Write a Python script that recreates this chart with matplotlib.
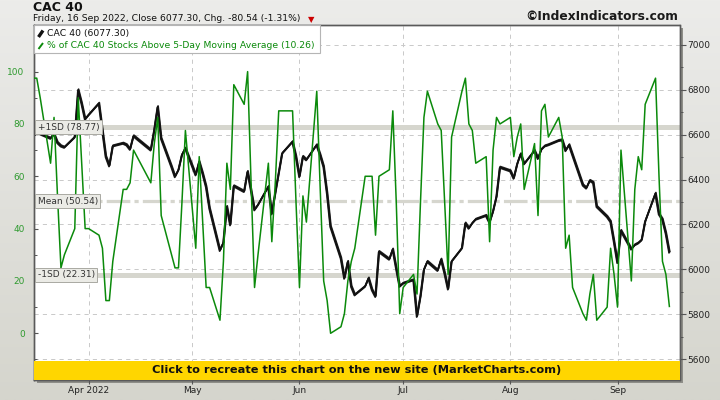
import numpy as np
import pandas as pd
import matplotlib
matplotlib.use("Agg")
import matplotlib.pyplot as plt
import matplotlib.dates as mdates
import matplotlib.patheffects as pe
from matplotlib.patches import Rectangle
from matplotlib.lines import Line2D
from matplotlib.transforms import blended_transform_factory
from matplotlib.colors import LinearSegmentedColormap
from matplotlib.ticker import FixedLocator, FixedFormatter, MultipleLocator

# ---------------- data ----------------
holidays = ["2022-04-15", "2022-04-18"]
dates = pd.bdate_range("2022-03-16", "2022-09-16")
dates = dates[~dates.isin(pd.to_datetime(holidays))]

cac = [
    # Mar 16-31
    6589, 6614, 6604, 6584, 6604, 6565, 6550, 6544, 6589, 6800, 6740, 6669,
    # Apr
    6688, 6740, 6621, 6503, 6461, 6550, 6562, 6555, 6535, 6595, 6532, 6621,
    6725, 6584, 6458, 6413, 6443, 6510, 6540,
    # May
    6421, 6480, 6428, 6369, 6272, 6084, 6119, 6280, 6198, 6372, 6347, 6436,
    6354, 6265, 6287, 6369, 6247, 6339, 6428, 6517, 6569, 6503,
    # Jun
    6413, 6503, 6488, 6555, 6510, 6458, 6339, 6191, 6050, 5960, 6035, 5924,
    5886, 5924, 5961, 5909, 5879, 6079, 6045, 6090, 6005, 5924,
    # Jul
    5938, 5953, 5790, 5879, 5998, 6035, 5995, 6045, 5983, 5912, 6035, 6094,
    6206, 6183, 6206, 6223, 6240, 6209, 6258, 6324, 6455,
    # Aug
    6439, 6406, 6470, 6515, 6470, 6529, 6494, 6535, 6550, 6555, 6574, 6577,
    6529, 6555, 6510, 6376, 6362, 6396, 6387, 6280, 6235, 6213, 6124,
    # Sep 1-16
    6030, 6173, 6090, 6109, 6117, 6131, 6213, 6339, 6247, 6223, 6161, 6077.30,
]

pct = [
    # Mar 16-31
    97.5, 97.5, 90, 65, 82.5, 52.5, 25, 30, 40, 90, 65, 40,
    # Apr
    40, 37.5, 32.5, 12.5, 12.5, 27.5, 55, 55, 57.5, 70, 57.5, 72.5,
    82.5, 45, 30, 25, 25, 50, 77.5,
    # May
    32.5, 67.5, 42.5, 17.5, 17.5, 5, 27.5, 65, 55, 95, 87.5, 100,
    57.5, 17.5, 30, 65, 35, 57.5, 85, 85, 85, 50,
    # Jun
    17.5, 52.5, 42.5, 92.5, 55, 20, 12.5, 0, 2.5, 7.5, 20, 27.5,
    32.5, 60, 60, 60, 37.5, 60, 62.5, 85, 50, 7.5,
    # Jul
    17.5, 22.5, 15, 50, 82.5, 92.5, 80, 77.5, 50, 22.5, 75, 92.5,
    97.5, 80, 77.5, 65, 67.5, 35, 70, 82.5, 80,
    # Aug
    82.5, 67.5, 75, 80, 55, 72.5, 45, 85, 87.5, 75, 82.5, 75,
    32.5, 37.5, 17.5, 7.5, 5, 15, 22.5, 5, 10, 32.5, 22.5,
    # Sep 1-16
    10, 70, 20, 55, 67.5, 62.5, 87.5, 97.5, 60, 27.5, 22.5, 10.26,
]

sd_levels = [78.77, 50.54, 22.31]
sd_labels = ["+1SD (78.77)", "Mean (50.54)", "-1SD (22.31)"]

month_ticks = ["2022-04-01", "2022-05-01", "2022-06-01", "2022-07-01", "2022-08-01", "2022-09-01"]
month_labels = ["Apr 2022", "May", "Jun", "Jul", "Aug", "Sep"]

cac_ticks = [5600, 5800, 6000, 6200, 6400, 6600, 6800, 7000]
pct_ticks = [0, 20, 40, 60, 80, 100]

title = "CAC 40"
subtitle = "Friday, 16 Sep 2022, Close 6077.30, Chg. -80.54 (-1.31%)"
legend_cac = "CAC 40 (6077.30)"
legend_pct = "% of CAC 40 Stocks Above 5-Day Moving Average (10.26)"
watermark = "\u00a9IndexIndicators.com"
banner = "Click to recreate this chart on the new site (MarketCharts.com)"

# ---------------- figure ----------------
plt.rcParams["font.family"] = ["DejaVu Sans"]
plt.rcParams["lines.scale_dashes"] = False
W, H = 720, 400
fig = plt.figure(figsize=(7.2, 4.0), dpi=100)

def fx(px):
    return px / W

def fy(py):
    return 1 - py / H

# background gradient
bg = fig.add_axes([0, 0, 1, 1], zorder=-10)
grad = np.linspace(0, 1, 256).reshape(-1, 1)
cmap = LinearSegmentedColormap.from_list("bg", ["#ececea", "#d5d5cd"])
bg.imshow(grad, aspect="auto", cmap=cmap, extent=[0, 1, 0, 1])
bg.axis("off")

L, R, T, B = 34.4, 679.5, 25.3, 379.5
# shadow
fig.patches.append(Rectangle((fx(L + 3), fy(B + 3)), (R - L) / W, (B - T) / H,
                             transform=fig.transFigure, facecolor="#8e8e88",
                             edgecolor="none", zorder=-1))

ax = fig.add_axes([fx(L), fy(B), (R - L) / W, (B - T) / H])
ax2 = ax.twinx()
ax.set_facecolor("white")
ax2.patch.set_visible(False)

x = mdates.date2num(dates)
x0 = mdates.date2num(pd.Timestamp("2022-03-16")) + 0.32
x1 = mdates.date2num(pd.Timestamp("2022-09-18")) + 0.93
ax.set_xlim(x0, x1)
ax.set_ylim(5508.7, 7087.7)
ax2.set_ylim(-17.66, 117.7)

# grid
ax.set_axisbelow(True)
ax.grid(True, which="major", color="#c9c9c9", linestyle=(0, (3, 3)), linewidth=0.7)

# SD bands (drawn in the CAC axes so the index line sits on top)
btr = blended_transform_factory(ax.transAxes, ax2.transData)
ax.plot([0, 1], [sd_levels[0]] * 2, transform=btr, color="#d6d6ce", lw=3.6,
        solid_capstyle="butt", zorder=1)
ax.plot([0, 1], [sd_levels[2]] * 2, transform=btr, color="#d6d6ce", lw=3.6,
        solid_capstyle="butt", zorder=1)
mline, = ax.plot([0, 1], [sd_levels[1]] * 2, transform=btr, color="#d6d6ce", lw=2.3,
                 solid_capstyle="butt", zorder=1)
mline.set_dashes([17, 3, 3, 3])

# CAC line (slanted-pen look)
ax.plot(x, cac, color="#111111", lw=1.25, zorder=3,
        path_effects=[pe.Stroke(offset=(0.25, 0.5), linewidth=1.25, foreground="#222222"),
                      pe.Stroke(offset=(-0.25, -0.5), linewidth=1.25, foreground="#222222"),
                      pe.Normal()])
# % line
ax2.plot(x, pct, color="#0b8a0b", lw=1.1, zorder=3)

# SD label boxes
for v, lab in zip(sd_levels, sd_labels):
    ax2.text(0.005, v, lab, transform=blended_transform_factory(ax2.transAxes, ax2.transData),
             fontsize=6.5, color="#333333", va="center", ha="left", zorder=6,
             bbox=dict(boxstyle="square,pad=0.25", facecolor="#ebebe6", edgecolor="#a9a9a2", lw=0.7))

# yellow banner
bh = (B - 361) / (B - T)
ax2.add_patch(Rectangle((0, 0), 1, bh, transform=ax2.transAxes, facecolor="#ffd600",
                        edgecolor="none", zorder=8))
ax2.text(0.5, bh / 2, banner, transform=ax2.transAxes, ha="center", va="center",
         fontsize=8.2, fontweight="bold", color="#111111", zorder=9)

# axes styling
for a in (ax, ax2):
    for s in a.spines.values():
        s.set_color("#5a5a5a")
        s.set_linewidth(1.0)

ax.xaxis.set_major_locator(FixedLocator(mdates.date2num(pd.to_datetime(month_ticks))))
ax.xaxis.set_major_formatter(FixedFormatter(month_labels))
ax.tick_params(axis="x", direction="out", length=3, width=0.8, color="#555555",
               labelsize=6.5, labelcolor="#222222", pad=2)

ax.yaxis.tick_right()
ax.yaxis.set_major_locator(FixedLocator(cac_ticks))
ax.yaxis.set_minor_locator(MultipleLocator(100))
ax.tick_params(axis="y", which="major", direction="out", length=4, width=0.8,
               color="#555555", labelsize=6.5, labelcolor="#222222", pad=1.5)
ax.tick_params(axis="y", which="minor", direction="out", length=2, width=0.7, color="#555555")

ax2.yaxis.tick_left()
ax2.yaxis.set_major_locator(FixedLocator(pct_ticks))
ax2.yaxis.set_minor_locator(MultipleLocator(10))
ax2.tick_params(axis="y", which="major", direction="in", length=3, width=0.8,
                color="#555555", labelsize=6.5, labelcolor="#2f9a2f", pad=7)
ax2.tick_params(axis="y", which="minor", direction="in", length=2, width=0.7, color="#555555")
ax2.tick_params(axis="x", which="both", bottom=False, top=False)

# legend box
fig.patches.append(Rectangle((fx(L), fy(53)), (320 - L) / W, (53 - T) / H,
                             transform=fig.transFigure, facecolor="white",
                             edgecolor="#b5b5b5", lw=0.8, zorder=10))
fig.add_artist(Line2D([fx(38.5), fx(43)], [fy(37), fy(30.5)], color="#111111", lw=2.4,
                      zorder=11, solid_capstyle="butt"))
fig.add_artist(Line2D([fx(38.5), fx(43)], [fy(49), fy(43)], color="#0b8a0b", lw=1.4,
                      zorder=11, solid_capstyle="butt"))
fig.text(fx(47), fy(33.5), legend_cac, fontsize=6.7, color="#111111", va="center", ha="left", zorder=11)
fig.text(fx(47), fy(45.5), legend_pct, fontsize=6.7, color="#0b8a0b", va="center", ha="left", zorder=11)

# titles
fig.text(fx(33), fy(7.5), title, fontsize=9, fontweight="bold", color="#111111", va="center", ha="left")
fig.text(fx(33), fy(18.5), subtitle, fontsize=6.7, color="#111111", va="center", ha="left")
fig.text(fx(311), fy(19.5), "\u25bc", fontsize=6, color="#cc0000", va="center", ha="center")
fig.text(fx(678), fy(17), watermark, fontsize=8.8, fontweight="bold", color="#1a1a1a",
         va="center", ha="right")

fig.savefig("out.png", dpi=100)
